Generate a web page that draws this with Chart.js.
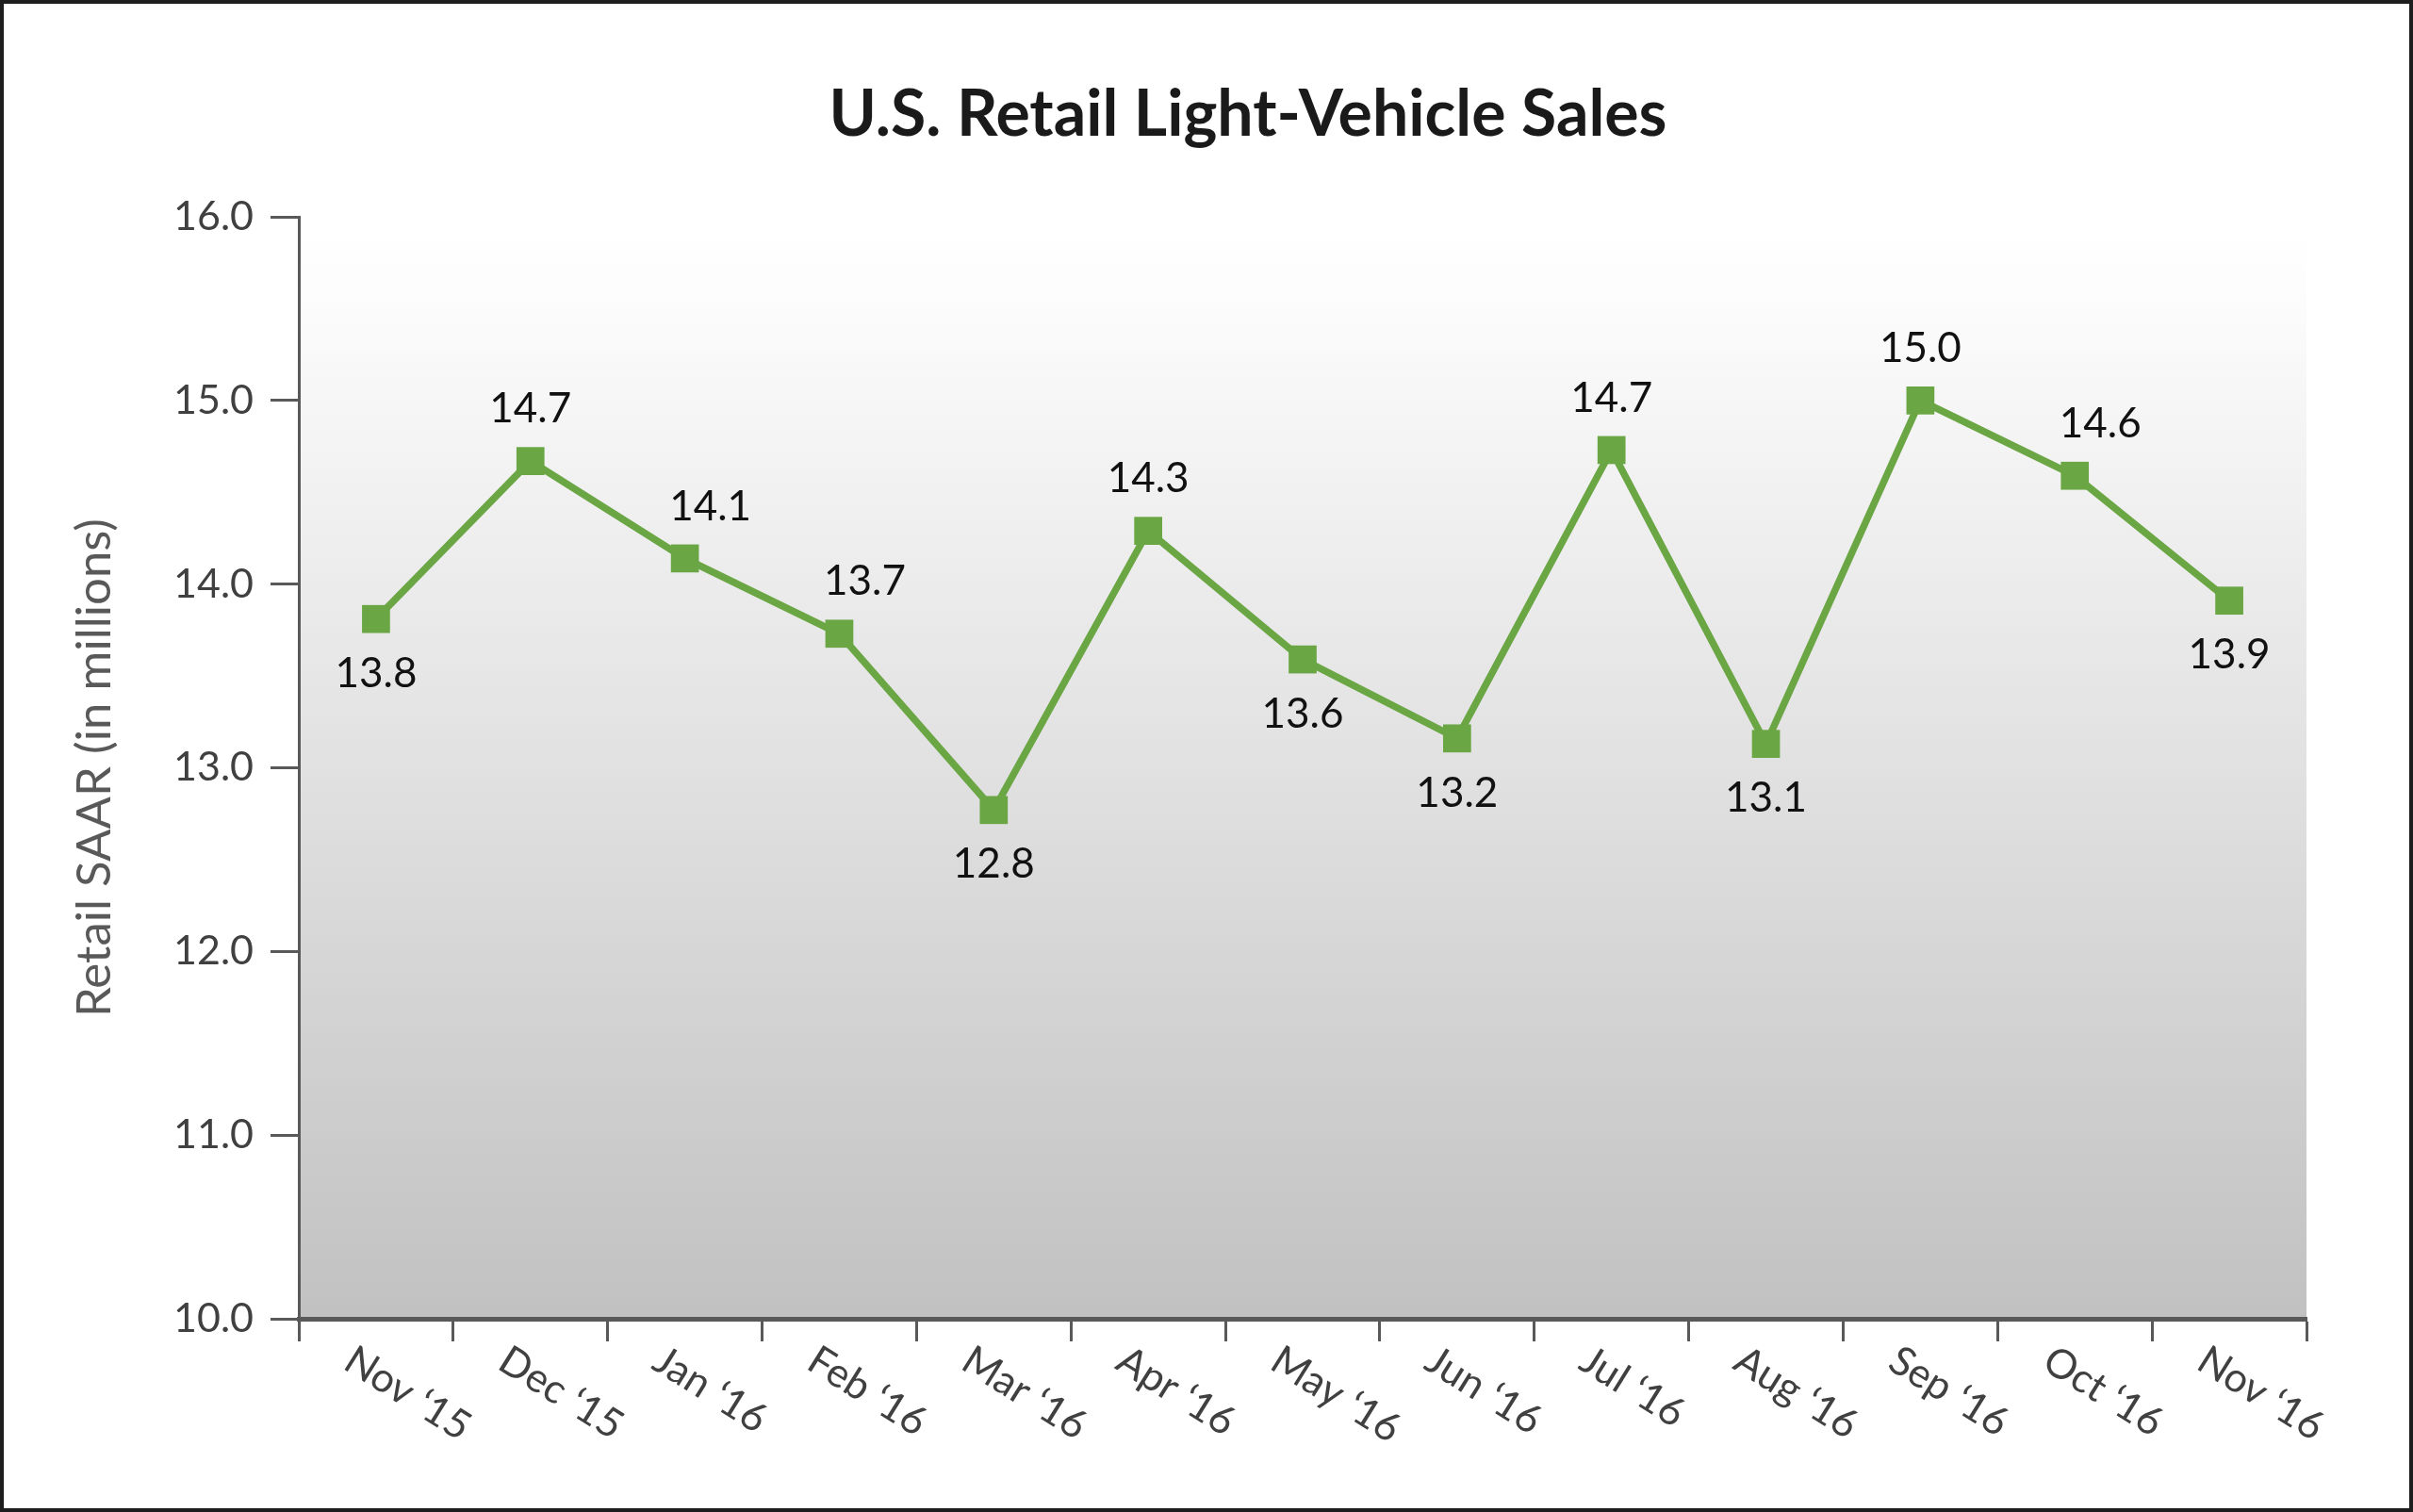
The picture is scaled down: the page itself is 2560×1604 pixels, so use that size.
<!DOCTYPE html>
<html>
<head>
<meta charset="utf-8">
<title>U.S. Retail Light-Vehicle Sales</title>
<script src="https://cdn.jsdelivr.net/npm/chart.js@4.4.1/dist/chart.umd.min.js"></script>
<style>
  html, body { margin: 0; padding: 0; background: #fff; }
  #wrap { width: 2560px; height: 1604px; position: relative; }
</style>
</head>
<body>
<div id="wrap"><canvas id="salesChart"></canvas></div>
<script>
const chartTitle = "U.S. Retail Light-Vehicle Sales";
const months = ["Nov \u201815", "Dec \u201815", "Jan \u201816", "Feb \u201816", "Mar \u201816", "Apr \u201816",
  "May \u201816", "Jun \u201816", "Jul \u201816", "Aug \u201816", "Sep \u201816", "Oct \u201816", "Nov \u201816"];
const saarValues = [13.81, 14.67, 14.14, 13.73, 12.77, 14.29, 13.59, 13.16, 14.73, 13.13, 15.0, 14.59, 13.91];
const yTicks = [10, 11, 12, 13, 14, 15, 16];

// where each value label sits relative to its marker
const labelPlacement = ["below", "above", "above-right", "above-right", "below", "above",
  "below", "below", "above", "below", "above", "above-right", "below"];

const GREEN = "#6ba644";
const AXIS = "#595959";

const plotBackground = {
  id: "plotBackground",
  beforeDraw(chart) {
    const { ctx, chartArea: a } = chart;
    const g = ctx.createLinearGradient(0, a.top, 0, a.bottom);
    g.addColorStop(0, "#ffffff");
    g.addColorStop(0.06, "#fdfdfd");
    g.addColorStop(1, "#c1c1c2");
    ctx.save();
    ctx.fillStyle = g;
    ctx.fillRect(a.left, a.top, a.right - a.left, a.bottom - a.top);
    ctx.restore();
  },
  afterDraw(chart) {
    const ctx = chart.ctx;
    ctx.save();
    // title, a little left of the plot centre as in the original
    ctx.fillStyle = "#1a1a1a";
    ctx.font = "bold 68px Lato";
    ctx.textAlign = "center";
    ctx.textBaseline = "middle";
    ctx.fillText(chartTitle, 1324, 122);
    // frame round the whole picture
    ctx.strokeStyle = "#1e1e1e";
    ctx.lineWidth = 4;
    ctx.strokeRect(2, 2, chart.width - 4, chart.height - 4);
    ctx.restore();
  }
};

const slantedLabels = {
  id: "slantedLabels",
  afterDraw(chart) {
    const { ctx } = chart;
    const x = chart.scales.x;
    ctx.save();
    ctx.fillStyle = "#404040";
    ctx.font = "43px Lato";
    ctx.textAlign = "left";
    ctx.textBaseline = "top";
    months.forEach((m, i) => {
      ctx.save();
      ctx.translate(x.getPixelForValue(i) - 18, x.top + 22);
      ctx.rotate(32 * Math.PI / 180);
      ctx.fillText(m, 0, 0);
      ctx.restore();
    });
    ctx.restore();
  }
};

const valueLabels = {
  id: "valueLabels",
  afterDatasetsDraw(chart) {
    const { ctx } = chart;
    const meta = chart.getDatasetMeta(0);
    ctx.save();
    ctx.fillStyle = "#111";
    ctx.font = "44px Lato";
    ctx.textAlign = "center";
    ctx.textBaseline = "middle";
    meta.data.forEach((pt, i) => {
      const place = labelPlacement[i];
      let dx = 0, dy = 58;
      if (place !== "below") dy = -55;
      if (place === "above-right") dx = 27;
      ctx.fillText(saarValues[i].toFixed(1), pt.x + dx, pt.y + dy);
    });
    ctx.restore();
  }
};

new Chart(document.getElementById("salesChart"), {
  type: "line",
  data: {
    labels: months,
    datasets: [{
      data: saarValues,
      borderColor: GREEN,
      backgroundColor: GREEN,
      borderWidth: 7.5,
      pointStyle: "rect",
      pointRadius: 21,
      pointHoverRadius: 21,
      pointBackgroundColor: GREEN,
      pointBorderWidth: 0,
      tension: 0
    }]
  },
  options: {
    responsive: true,
    maintainAspectRatio: false,
    devicePixelRatio: 1,
    animation: false,
    layout: { padding: { top: 230, right: 113, bottom: 0, left: 0 } },
    plugins: {
      legend: { display: false },
      tooltip: { enabled: false },
      title: { display: false }
    },
    scales: {
      x: {
        type: "category",
        offset: true,
        grid: { offset: true, drawOnChartArea: false, tickLength: 24, tickWidth: 3, tickColor: AXIS },
        border: { color: AXIS, width: 5 },
        ticks: { display: false },
        afterFit(scale) { scale.height = 205; }
      },
      y: {
        min: 10,
        max: 16,
        afterBuildTicks(scale) { scale.ticks = yTicks.map(v => ({ value: v })); },
        grid: { drawOnChartArea: false, tickLength: 30, tickWidth: 3, tickColor: AXIS },
        border: { color: AXIS, width: 3 },
        ticks: {
          color: "#404040",
          padding: 18,
          font: { family: "Lato", size: 43 },
          callback: v => Number(v).toFixed(1)
        },
        title: {
          display: true,
          text: "Retail SAAR (in millions)",
          color: AXIS,
          font: { family: "Lato", size: 51, lineHeight: 1.2 },
          padding: { top: 70, bottom: 0 }
        },
        afterFit(scale) { scale.width = 317; }
      }
    }
  },
  plugins: [plotBackground, slantedLabels, valueLabels]
});
</script>
</body>
</html>
